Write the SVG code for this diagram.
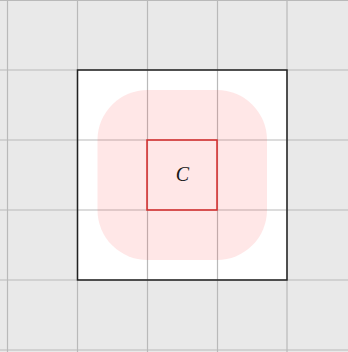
<svg xmlns="http://www.w3.org/2000/svg" width="348" height="352" viewBox="0 0 348 352">
<style>
.grid{stroke:#b9b9b9;stroke-width:1.2;fill:none}
.lbl{font-family:"Liberation Serif","DejaVu Serif",serif;font-style:italic;font-size:20px;fill:#1a1a1a}
</style>
<rect x="0" y="0" width="348" height="352" fill="#e9e9e9"/>
<rect x="77.5" y="70" width="209.5" height="210" fill="#ffffff"/>
<g id="grid" class="grid">
<line x1="7.5" y1="0" x2="7.5" y2="352"/>
<line x1="77.5" y1="0" x2="77.5" y2="352"/>
<line x1="147.5" y1="0" x2="147.5" y2="352"/>
<line x1="217.5" y1="0" x2="217.5" y2="352"/>
<line x1="287" y1="0" x2="287" y2="352"/>
<line x1="0" y1="0.5" x2="348" y2="0.5"/>
<line x1="0" y1="70" x2="348" y2="70"/>
<line x1="0" y1="140" x2="348" y2="140"/>
<line x1="0" y1="210" x2="348" y2="210"/>
<line x1="0" y1="280" x2="348" y2="280"/>
<line x1="0" y1="350" x2="348" y2="350"/>
</g>
<g id="region">
<rect x="97.5" y="90" width="169.5" height="170" rx="50" ry="50" fill="#f44" fill-opacity="0.13"/>
</g>
<g id="outer">
<rect x="77.5" y="70" width="209.5" height="210" fill="none" stroke="#222" stroke-width="1.5"/>
</g>
<g id="C">
<rect x="147" y="140" width="70" height="70" fill="none" stroke="#d42a2a" stroke-width="1.5"/>
<text class="lbl" x="182.5" y="181" text-anchor="middle">C</text>
</g>
</svg>
